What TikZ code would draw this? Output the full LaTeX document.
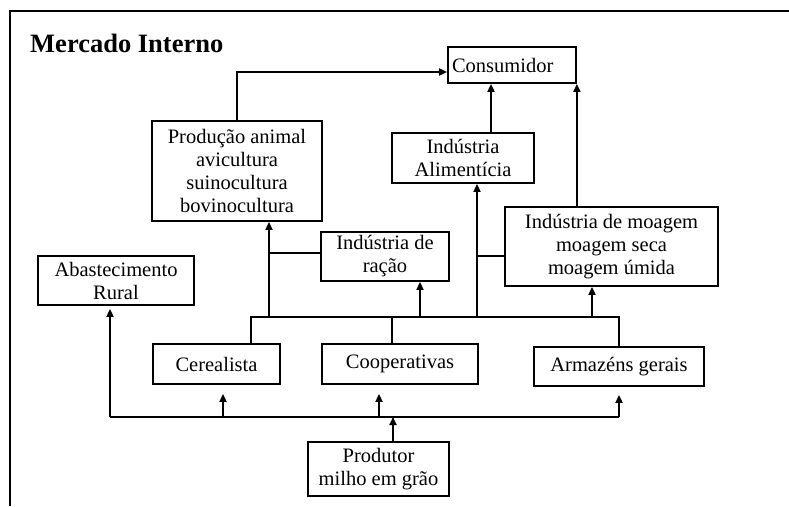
\documentclass[tikz,border=0pt]{standalone}
\usepackage{fontspec}
\setmainfont{Liberation Serif}
\usetikzlibrary{arrows.meta}

\begin{document}
\begin{tikzpicture}[x=1pt,y=-1pt,line width=1.8pt,>={Triangle[length=8pt,width=7pt]},
                    box node/.style={rectangle,draw,inner sep=3pt,align=center,
                                     font=\fontsize{20.5}{23}\selectfont}]

  \useasboundingbox (0,0) rectangle (789,506);
  \draw (10,506) -- (10,11) -- (789,11);
  \node[anchor=base west,font=\fontsize{26.5}{30}\selectfont\bfseries] (title) at (26,52) {Mercado Interno};

  \node[box node,minimum width=128pt,minimum height=36pt,text width=120pt,align=left] (cons) at (512,65) {Consumidor};
  \node[box node,minimum width=170pt,minimum height=100pt] (prod) at (237,171) {Produção animal\\avicultura\\suinocultura\\bovinocultura};
  \node[box node,minimum width=142pt,minimum height=50pt] (alim) at (463,158) {Indústria\\Alimentícia};
  \node[box node,minimum width=128pt,minimum height=49pt] (racao) at (385,256.5) {Indústria de\\ração};
  \node[box node,minimum width=213pt,minimum height=79pt] (moag) at (611.5,246.5) {Indústria de moagem\\moagem seca\\moagem úmida};
  \node[box node,minimum width=156pt,minimum height=49pt] (abast) at (116,280.5) {Abastecimento\\Rural};
  \node[box node,minimum width=127pt,minimum height=40pt] (cere) at (216.5,364) {Cerealista};
  \node[box node,minimum width=156pt,minimum height=40pt] (coop) at (400,364) {Cooperativas};
  \node[box node,minimum width=170pt,minimum height=39pt] (armz) at (619,366.5) {Armazéns gerais};
  \node[box node,minimum width=141pt,minimum height=54pt] (prodr) at (378.5,469) {Produtor\\milho em grão};

  % bus lines
  \coordinate (up bus) at (251,317);
  \coordinate (up end) at (619,317);
  \coordinate (low bus) at (110,417);
  \coordinate (low end) at (619,417);

  \coordinate (coop out) at ([xshift=-8pt]coop.north);
  \coordinate (prod in) at ([xshift=32pt]prod.south);
  \coordinate (racao in) at ([xshift=35pt]racao.south);
  \coordinate (racao side) at ([yshift=3.5pt]racao.west);
  \coordinate (alim in) at ([xshift=14pt]alim.south);
  \coordinate (moag side) at ([yshift=-9.5pt]moag.west);
  \coordinate (moag in) at ([xshift=-19.5pt]moag.south);
  \coordinate (alim out) at ([xshift=28pt]alim.north);
  \coordinate (cons side) at ([yshift=-7pt]cons.west);
  \coordinate (cere in) at ([xshift=6.5pt]cere.south);
  \coordinate (coop in) at ([xshift=-21pt]coop.south);
  \coordinate (prodr out) at ([xshift=14.5pt]prodr.north);

  % upper level
  \draw (cere.north -| up bus) -- (up bus) -- (up end) -- (armz.north);
  \draw (coop out) -- (coop out |- up bus);
  \draw[->] (prod in |- up bus) -- (prod in);
  \draw (prod in |- racao side) -- (racao side);
  \draw[->] (racao in |- up bus) -- (racao in);
  \draw[->] (alim in |- up bus) -- (alim in);
  \draw (alim in |- moag side) -- (moag side);
  \draw[->] (moag in |- up bus) -- (moag in);

  % to consumidor
  \draw[->] (prod.north) |- (cons side);
  \draw[->] (alim out) -- (alim out |- cons.south);
  \draw[->] (moag.north -| cons.south east) -- (cons.south east);

  % lower level
  \draw (low bus) -- (low end);
  \draw[->,shorten >=3pt] (low bus) -- (low bus |- abast.south);
  \draw[->,shorten >=9pt] (cere in |- low bus) -- (cere in);
  \draw[->,shorten >=9pt] (coop in |- low bus) -- (coop in);
  \draw[->,shorten >=8pt] (low end) -- (armz.south);
  \draw[->] (prodr out) -- (prodr out |- low bus);
\end{tikzpicture}
\end{document}
